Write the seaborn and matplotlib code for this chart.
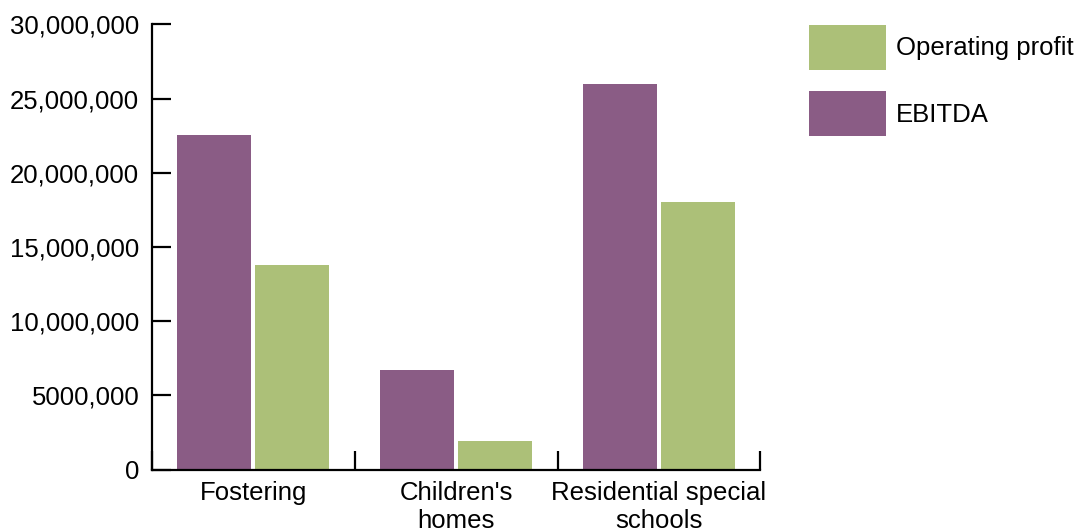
import matplotlib
matplotlib.use("Agg")
import matplotlib.pyplot as plt
from matplotlib.patches import Patch
import pandas as pd
import seaborn as sns

# Segment results (GBP)
segments = ["Fostering", "Children's\nhomes", "Residential special\nschools"]
ebitda = [22_550_000, 6_720_000, 26_000_000]
operating_profit = [13_800_000, 1_930_000, 18_050_000]

y_ticks = [0, 5_000_000, 10_000_000, 15_000_000, 20_000_000, 25_000_000, 30_000_000]
y_tick_labels = ["0", "5000,000", "10,000,000", "15,000,000", "20,000,000",
                 "25,000,000", "30,000,000"]

series_names = ["EBITDA", "Operating profit"]
colors = {"EBITDA": "#8A5C85", "Operating profit": "#ACC078"}

df = pd.DataFrame({
    "segment": segments * 2,
    "measure": ["EBITDA"] * len(segments) + ["Operating profit"] * len(segments),
    "value": ebitda + operating_profit,
})

sns.set_style("ticks")
plt.rcParams["font.family"] = ["Liberation Sans", "DejaVu Sans"]
plt.rcParams["text.color"] = "black"

FS = 18.5

fig = plt.figure(figsize=(10.87, 5.29), dpi=100)
ax = fig.add_axes([0.1396, 0.1121, 0.6996 - 0.1396, 0.954 - 0.1121])

sns.barplot(data=df, x="segment", y="value", hue="measure",
            hue_order=series_names, palette=colors, order=segments,
            width=0.764, gap=0.045, saturation=1, errorbar=None,
            linewidth=0, legend=False, ax=ax)

ax.set_xlim(-0.5, len(segments) - 0.5)
ax.set_ylim(0, 30_000_000)
ax.set_xlabel("")
ax.set_ylabel("")

for side in ("top", "right"):
    ax.spines[side].set_visible(False)
for side in ("left", "bottom"):
    ax.spines[side].set_linewidth(1.6)
    ax.spines[side].set_color("black")

ax.set_yticks(y_ticks, y_tick_labels)
ax.tick_params(axis="y", direction="in", length=14, width=1.6,
               labelsize=FS, pad=9, colors="black")

# category labels at centers without marks, boundary marks between groups
ax.set_xticks(range(len(segments)), segments)
ax.tick_params(axis="x", which="major", length=0, labelsize=FS, pad=8,
               labelcolor="black")
ax.set_xticks([i - 0.5 for i in range(len(segments) + 1)], minor=True)
ax.tick_params(axis="x", which="minor", direction="in", length=14, width=1.6,
               colors="black")
for lbl in ax.get_xticklabels():
    lbl.set_linespacing(1.2)

handles = [Patch(facecolor=colors["Operating profit"], edgecolor="none"),
           Patch(facecolor=colors["EBITDA"], edgecolor="none")]
fig.legend(handles, ["Operating profit", "EBITDA"], loc="upper left",
           bbox_to_anchor=(809 / 1087, 1 - 25 / 529), frameon=False,
           fontsize=FS, borderpad=0, borderaxespad=0,
           handlelength=3.0, handleheight=2.32, labelspacing=0.82,
           handletextpad=0.39)

fig.savefig("out.png", dpi=100)
